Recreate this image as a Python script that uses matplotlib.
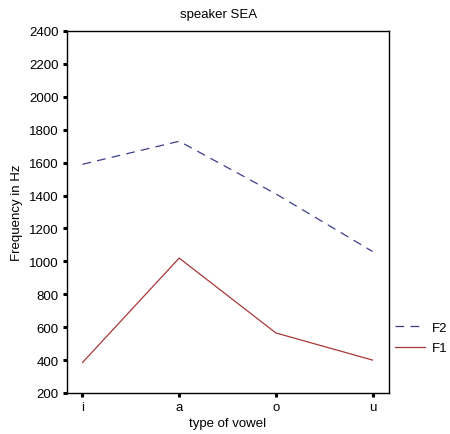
import matplotlib
matplotlib.use("Agg")
import matplotlib.pyplot as plt

vowels = ["i", "a", "o", "u"]
f1 = [385, 1020, 565, 400]
f2 = [1590, 1730, 1410, 1060]
y_ticks = list(range(200, 2401, 200))

plt.rcParams["font.family"] = ["Liberation Sans", "DejaVu Sans"]

fig = plt.figure(figsize=(4.5, 4.35), dpi=100)
fig.patch.set_facecolor("white")
ax = fig.add_axes([67 / 450, 41 / 435, 322 / 450, 362 / 435])

x = list(range(len(vowels)))
l2, = ax.plot(x, f2, color="#3c3c8c", lw=0.9, dashes=(7, 5), label="F2")
l1, = ax.plot(x, f1, color="#a83838", lw=0.9, label="F1")

ax.set_xlim(-0.16, 3.17)
ax.set_ylim(200, 2400)
ax.set_yticks(y_ticks)
ax.set_xticks(x)
ax.set_xticklabels(vowels)
ax.tick_params(direction="out", length=3, width=2.2, labelsize=9.5, pad=3)
for s in ax.spines.values():
    s.set_linewidth(1.0)

ax.set_ylabel("Frequency in Hz", fontsize=9.5, labelpad=4)
ax.set_xlabel("type of vowel", fontsize=9.5, labelpad=3)
fig.text(219 / 450, 1 - 15 / 435, "speaker SEA", ha="center", va="center", fontsize=9.5)

fig.legend(handles=[l2, l1], loc="center left", bbox_to_anchor=(395 / 450, 1 - 339 / 435),
           frameon=False, fontsize=9.5, handlelength=2.3, handletextpad=0.5,
           labelspacing=0.6, borderpad=0, borderaxespad=0)

fig.savefig("out.png", dpi=100, facecolor="white")
